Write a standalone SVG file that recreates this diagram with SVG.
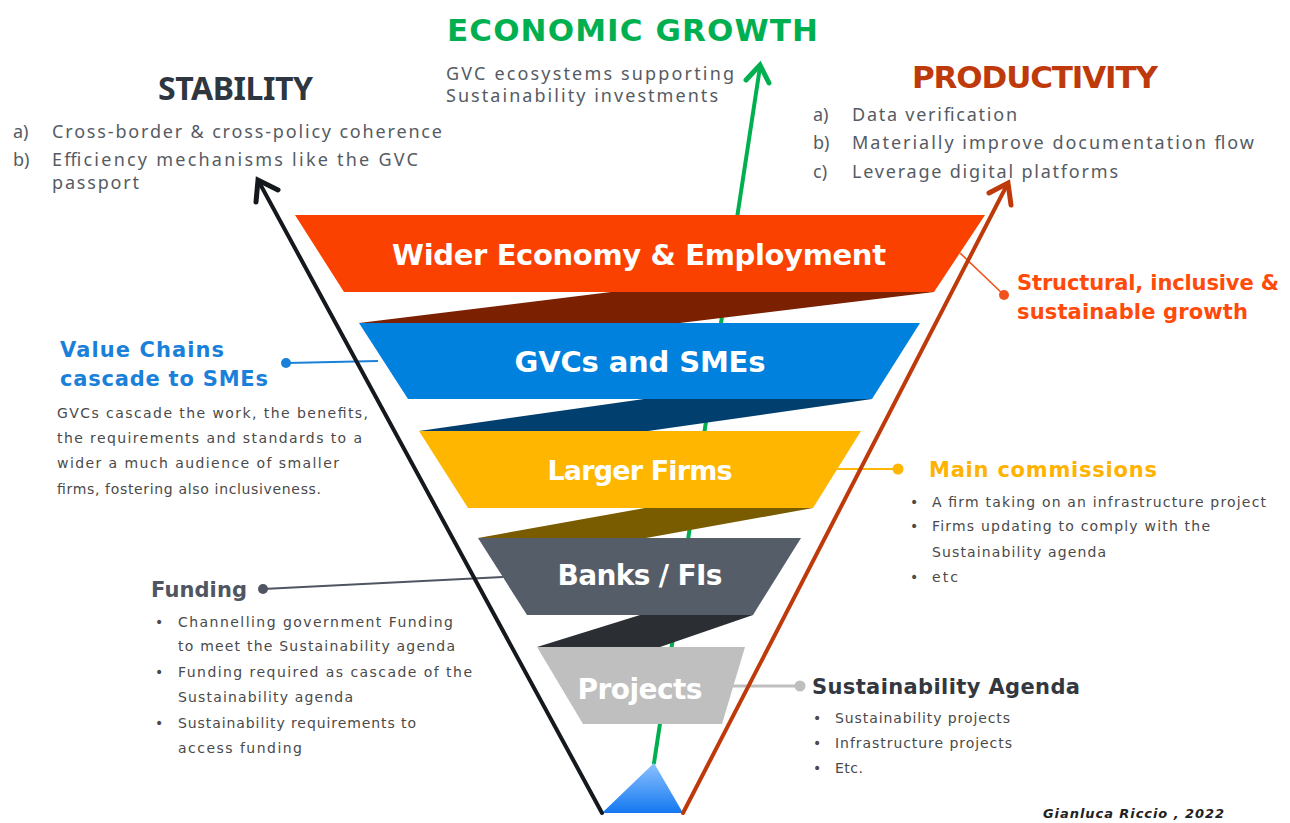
<svg xmlns="http://www.w3.org/2000/svg" width="1290" height="823" viewBox="0 0 1290 823">
<defs>
<linearGradient id="triGrad" x1="0" y1="0" x2="0" y2="1">
<stop offset="0" stop-color="#8CC2FF"/>
<stop offset="1" stop-color="#1478F0"/>
</linearGradient>
<style>
.lbl{font-family:"DejaVu Sans",sans-serif;font-weight:bold;fill:#ffffff;text-anchor:middle;}
.head{font-family:"DejaVu Sans",sans-serif;font-weight:bold;}
.body{font-family:"DejaVu Sans",sans-serif;font-size:14px;fill:#4a4a4a;}
.top{font-family:"Noto Sans",sans-serif;font-size:18px;fill:#555b63;}
.title{font-family:"Noto Sans",sans-serif;font-weight:bold;}
.axis{fill:none;stroke-width:4;stroke-linecap:round;stroke-linejoin:round;}
.head-arrow{fill:none;stroke-width:5;stroke-linecap:round;stroke-linejoin:miter;}
.conn{fill:none;}
</style>
</defs>
<rect width="1290" height="823" fill="#ffffff"/>

<!-- green axis behind funnel -->
<g id="axis-growth">
<line class="axis" x1="654" y1="763" x2="760" y2="67" stroke="#00B050"/>
<polyline class="head-arrow" points="746,80 760,65 769,83" stroke="#00B050"/>
</g>

<!-- funnel -->
<g id="funnel">
<g id="node-wider">
<polygon points="611,292 934,292 680,323 359,323" fill="#7B2000"/>
<polygon points="295,215 985,215 934,292 344,292" fill="#FB4100"/>
<text class="lbl" x="639" y="265" font-size="29" textLength="494">Wider Economy &amp; Employment</text>
</g>
<g id="node-gvcs">
<polygon points="644,399 872,399 648,431 419,431" fill="#003F6E"/>
<polygon points="359,323 920,323 872,399 408,399" fill="#0081DE"/>
<text class="lbl" x="640" y="372" font-size="29" textLength="251">GVCs and SMEs</text>
</g>
<g id="node-larger">
<polygon points="645,508 813,508 646,538 478,538" fill="#7A5C00"/>
<polygon points="419,431 861,431 813,508 468,508" fill="#FFB600"/>
<text class="lbl" x="640" y="480" font-size="27" textLength="185">Larger Firms</text>
</g>
<g id="node-banks">
<polygon points="640,615 753,615 660,647 537,647" fill="#2B2F33"/>
<polygon points="478,538 801,538 753,615 527,615" fill="#555D68"/>
<text class="lbl" x="640" y="585" font-size="28" textLength="165">Banks / FIs</text>
</g>
<g id="node-projects">
<polygon points="537,647 745,647 722,724 583,724" fill="#BFBFBF"/>
<text class="lbl" x="640" y="699" font-size="28" textLength="125">Projects</text>
</g>
<g id="node-base">
<polygon points="654,763 683,813 602,813" fill="url(#triGrad)"/>
</g>
</g>

<!-- connectors -->
<g id="connectors">
<line class="conn" x1="378" y1="361" x2="287" y2="363" stroke="#1A80D9" stroke-width="2"/>
<circle cx="286" cy="363" r="5" fill="#1A80D9"/>
<line class="conn" x1="960" y1="253" x2="1004" y2="295" stroke="#F2521C" stroke-width="1.6"/>
<circle cx="1004" cy="295" r="5" fill="#F2521C"/>
<line class="conn" x1="837" y1="469" x2="898" y2="469" stroke="#FFB600" stroke-width="2"/>
<circle cx="898" cy="469" r="5.5" fill="#FFB600"/>
<line class="conn" x1="503" y1="577" x2="263" y2="589" stroke="#4F5661" stroke-width="2"/>
<circle cx="263" cy="589" r="5" fill="#4F5661"/>
<line class="conn" x1="722" y1="686" x2="800" y2="686" stroke="#BFBFBF" stroke-width="3"/>
<circle cx="800" cy="686" r="5.5" fill="#BFBFBF"/>
</g>

<!-- side axes -->
<g id="axis-stability">
<line class="axis" x1="602" y1="813" x2="259" y2="182" stroke="#15181C"/>
<polyline class="head-arrow" points="256,202 258,180 278,190" stroke="#15181C"/>
</g>
<g id="axis-productivity">
<line class="axis" x1="683" y1="813" x2="1007" y2="185" stroke="#BF3A0A"/>
<polyline class="head-arrow" points="989,193 1008,183 1011,205" stroke="#BF3A0A"/>
</g>

<!-- top titles -->
<g id="title-growth">
<text class="head" x="447" y="41" font-size="31" fill="#00B050" textLength="371">ECONOMIC GROWTH</text>
<text class="top" x="446" y="80" textLength="288">GVC ecosystems supporting</text>
<text class="top" x="446" y="102" textLength="272">Sustainability investments</text>
</g>
<g id="title-stability">
<text class="title" x="158" y="100" font-size="32" fill="#2E3640" textLength="155">STABILITY</text>
<text class="top" x="13" y="138">a)</text>
<text class="top" x="52" y="138" textLength="390">Cross-border &amp; cross-policy coherence</text>
<text class="top" x="13" y="166">b)</text>
<text class="top" x="52" y="166" textLength="366">Efficiency mechanisms like the GVC</text>
<text class="top" x="52" y="189" textLength="87">passport</text>
</g>
<g id="title-productivity">
<text class="head" x="912" y="88" font-size="31" fill="#BF3A0A" textLength="246">PRODUCTIVITY</text>
<text class="top" x="813" y="121">a)</text>
<text class="top" x="852" y="121" textLength="165">Data verification</text>
<text class="top" x="813" y="149">b)</text>
<text class="top" x="852" y="149" textLength="402">Materially improve documentation flow</text>
<text class="top" x="813" y="178">c)</text>
<text class="top" x="852" y="178" textLength="266">Leverage digital platforms</text>
</g>

<!-- side notes -->
<g id="note-structural">
<text class="head" x="1017" y="290" font-size="21" fill="#FF4A0A" textLength="262">Structural, inclusive &amp;</text>
<text class="head" x="1017" y="319" font-size="21" fill="#FF4A0A" textLength="231">sustainable growth</text>
</g>
<g id="note-valuechains">
<text class="head" x="60" y="357" font-size="21" fill="#1A80D9" textLength="164">Value Chains</text>
<text class="head" x="60" y="386" font-size="21" fill="#1A80D9" textLength="208">cascade to SMEs</text>
<text class="body" x="57" y="418" textLength="311">GVCs cascade  the work, the benefits,</text>
<text class="body" x="57" y="443" textLength="305">the  requirements and standards to a</text>
<text class="body" x="57" y="468" textLength="282">wider a much audience  of smaller</text>
<text class="body" x="57" y="494" textLength="264">firms, fostering also inclusiveness.</text>
</g>
<g id="note-commissions">
<text class="head" x="929" y="477" font-size="21" fill="#FFB300" textLength="228">Main commissions</text>
<text class="body" x="910" y="507">•</text>
<text class="body" x="932" y="507" textLength="334">A  firm taking on an infrastructure project</text>
<text class="body" x="910" y="531">•</text>
<text class="body" x="932" y="531" textLength="278">Firms updating to comply with the</text>
<text class="body" x="932" y="557" textLength="174">Sustainability agenda</text>
<text class="body" x="910" y="582">•</text>
<text class="body" x="932" y="582" textLength="26">etc</text>
</g>
<g id="note-funding">
<text class="head" x="151" y="597" font-size="21" fill="#4F5661" textLength="96">Funding</text>
<text class="body" x="155" y="627">•</text>
<text class="body" x="178" y="627" textLength="275">Channelling government Funding</text>
<text class="body" x="178" y="651" textLength="277">to meet the Sustainability agenda</text>
<text class="body" x="155" y="677">•</text>
<text class="body" x="178" y="677" textLength="294">Funding required  as cascade  of the</text>
<text class="body" x="178" y="702" textLength="175">Sustainability agenda</text>
<text class="body" x="155" y="728">•</text>
<text class="body" x="178" y="728" textLength="238">Sustainability requirements  to</text>
<text class="body" x="178" y="753" textLength="124">access  funding</text>
</g>
<g id="note-agenda">
<text class="head" x="812" y="694" font-size="21" fill="#333840" textLength="268">Sustainability Agenda</text>
<text class="body" x="813" y="723">•</text>
<text class="body" x="835" y="723" textLength="175">Sustainability projects</text>
<text class="body" x="813" y="748">•</text>
<text class="body" x="835" y="748" textLength="177">Infrastructure projects</text>
<text class="body" x="813" y="773">•</text>
<text class="body" x="835" y="773" textLength="28">Etc.</text>
</g>
<text x="1043" y="818" font-family="DejaVu Sans, sans-serif" font-size="13" font-weight="bold" font-style="italic" fill="#222222" textLength="181">Gianluca Riccio , 2022</text>
</svg>
